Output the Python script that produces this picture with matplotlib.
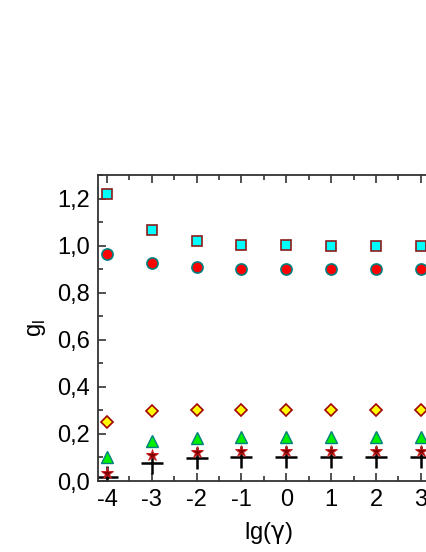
import numpy as np
import matplotlib
matplotlib.use("Agg")
import matplotlib.pyplot as plt
from matplotlib.ticker import MultipleLocator, FuncFormatter

plt.rcParams['font.family'] = ['Liberation Sans', 'DejaVu Sans']

lg_gamma = [-4, -3, -2, -1, 0, 1, 2, 3]
g_square = [1.222, 1.065, 1.02, 1.005, 1.002, 1.0, 1.0, 1.0]
g_circle = [0.963, 0.925, 0.908, 0.903, 0.9, 0.9, 0.9, 0.9]
g_diamond = [0.25, 0.298, 0.302, 0.3, 0.3, 0.3, 0.3, 0.3]
g_triangle = [0.10, 0.172, 0.183, 0.185, 0.185, 0.185, 0.185, 0.185]
g_star = [0.035, 0.11, 0.125, 0.128, 0.128, 0.128, 0.128, 0.128]
g_plus = [0.015, 0.077, 0.097, 0.1, 0.1, 0.1, 0.1, 0.1]

fig = plt.figure(figsize=(4.26, 5.52), dpi=100)
# axes runs past the right edge of the figure, as in the original
ax = fig.add_axes([0.230, 0.1286, 0.80, 0.554])

ax.plot(lg_gamma, g_square, 's', ms=6.5, mfc='#00ffff', mec='#8b1a1a', mew=1.2, ls='none')
ax.plot(lg_gamma, g_circle, 'o', ms=8, mfc='#ff0000', mec='#008080', mew=1.2, ls='none')
ax.plot(lg_gamma, g_diamond, 'D', ms=6.5, mfc='#ffff00', mec='#a00000', mew=1.2, ls='none')
ax.plot(lg_gamma, g_triangle, '^', ms=8, mfc='#00ee00', mec='#008080', mew=1.0, ls='none')
ax.plot(lg_gamma, g_plus, '+', ms=16, mec='black', mew=1.8, ls='none')
ax.plot(lg_gamma, g_star, '*', ms=9, mfc='#800000', mec='#cc2020', mew=0.7, ls='none')

ax.set_xlim(-4.2, 3.4)
ax.set_ylim(0, 1.3)
ax.xaxis.set_major_locator(MultipleLocator(1))
ax.xaxis.set_minor_locator(MultipleLocator(0.5))
ax.yaxis.set_major_locator(MultipleLocator(0.2))
ax.yaxis.set_minor_locator(MultipleLocator(0.1))
ax.yaxis.set_major_formatter(FuncFormatter(lambda v, p: f"{v:.1f}".replace('.', ',')))
ax.xaxis.set_major_formatter(FuncFormatter(lambda v, p: f"{v:.0f}"))

ax.tick_params(which='both', direction='in', top=True, right=True, labelsize=17, width=1.2, color='#333333')
ax.tick_params(which='major', length=6, pad=6)
ax.tick_params(which='minor', length=3.5)
for s in ax.spines.values():
    s.set_linewidth(1.3)
    s.set_color('#333333')

ax.set_xlabel(r'lg($\mathrm{\gamma}$)', fontsize=17, labelpad=6)
ax.set_ylabel(r'g$_\mathregular{l}$', fontsize=17, labelpad=6)

fig.savefig('out.png', dpi=100)
